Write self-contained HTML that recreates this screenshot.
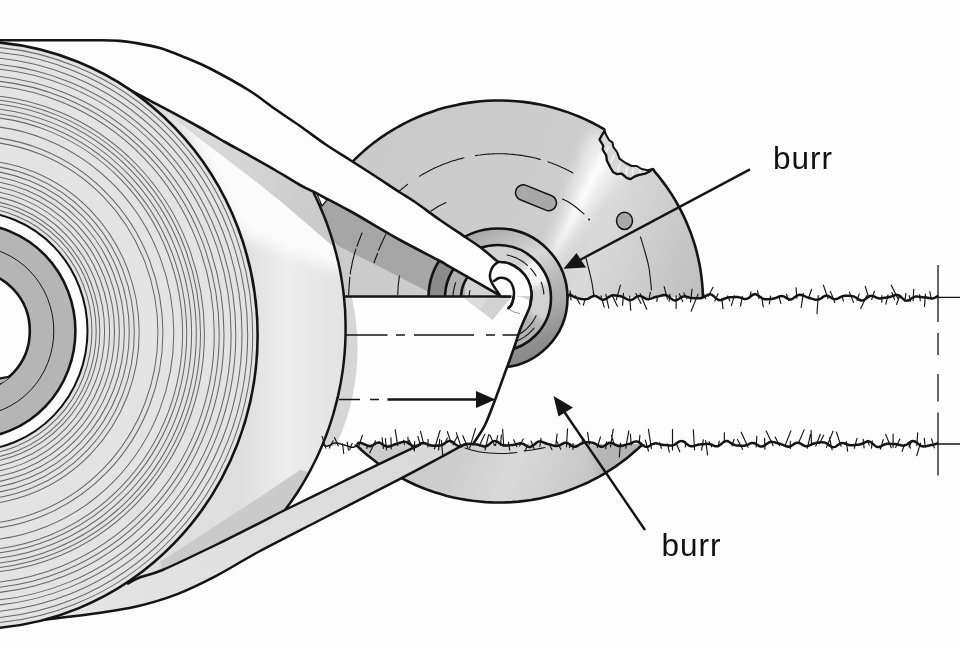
<!DOCTYPE html>
<html lang="en"><head><meta charset="utf-8"><title>burr</title>
<style>html,body{margin:0;padding:0;background:#fdfdfd;}body{width:960px;height:650px;overflow:hidden;font-family:"Liberation Sans",Arial,sans-serif;}svg{display:block;filter:blur(.45px)}</style>
</head><body>
<svg width="960" height="650" viewBox="0 0 960 650">
<defs>
<linearGradient id="gside" gradientUnits="userSpaceOnUse" x1="240" y1="330" x2="345" y2="330">
<stop offset="0" stop-color="#dedede"/><stop offset=".45" stop-color="#ededed"/><stop offset="1" stop-color="#e2e2e2"/></linearGradient>
<linearGradient id="gblade" gradientUnits="userSpaceOnUse" x1="330" y1="150" x2="720" y2="300">
<stop offset="0" stop-color="#cacaca"/><stop offset=".55" stop-color="#cdcdcd"/><stop offset=".68" stop-color="#d9d9d9"/><stop offset="1" stop-color="#bababa"/></linearGradient>
<linearGradient id="gring" gradientUnits="userSpaceOnUse" x1="480" y1="235" x2="530" y2="365">
<stop offset="0" stop-color="#acacac"/><stop offset=".27" stop-color="#d8d8d8"/><stop offset=".45" stop-color="#bcbcbc"/><stop offset=".66" stop-color="#a8a8a8"/><stop offset=".9" stop-color="#8c8c8c"/><stop offset="1" stop-color="#888888"/></linearGradient>
<linearGradient id="gbstrip" gradientUnits="userSpaceOnUse" x1="30" y1="620" x2="460" y2="450">
<stop offset="0" stop-color="#e6e6e6"/><stop offset="1" stop-color="#d8d8d8"/></linearGradient>
<linearGradient id="gshadow" gradientUnits="userSpaceOnUse" x1="165" y1="110" x2="335" y2="230"><stop offset="0" stop-color="#dedede"/><stop offset=".5" stop-color="#d4d4d4"/><stop offset="1" stop-color="#c8c8c8"/></linearGradient>
<filter id="blur6" x="-30%" y="-30%" width="160%" height="160%"><feGaussianBlur stdDeviation="7"/></filter>
<filter id="blur3" x="-30%" y="-30%" width="160%" height="160%"><feGaussianBlur stdDeviation="3"/></filter>

<clipPath id="cblade"><path d="M295.0,301.5 L295.1,294.4 L295.5,287.4 L296.1,280.3 L297.0,273.3 L298.2,266.3 L299.5,259.3 L301.2,252.4 L303.0,245.6 L305.2,238.8 L307.5,232.1 L310.1,225.5 L313.0,219.0 L316.0,212.6 L319.3,206.3 L322.8,200.2 L326.6,194.1 L330.5,188.2 L334.7,182.4 L339.0,176.8 L343.6,171.3 L348.3,166.0 L353.3,160.9 L358.4,155.9 L363.7,151.1 L369.1,146.5 L374.7,142.1 L380.5,137.9 L386.4,133.9 L392.5,130.1 L398.7,126.5 L405.0,123.1 L411.5,119.9 L418.0,117.0 L424.6,114.3 L431.4,111.9 L438.2,109.6 L445.1,107.6 L452.1,105.9 L459.1,104.4 L466.1,103.1 L473.3,102.1 L480.4,101.3 L487.6,100.8 L494.8,100.5 L501.9,100.5 L509.1,100.7 L516.3,101.2 L523.4,101.9 L530.6,102.9 L537.6,104.1 L544.7,105.6 L551.6,107.3 L558.5,109.3 L565.4,111.4 L572.1,113.9 L578.8,116.5 L585.4,119.4 L591.8,122.5 L598.2,125.8 L604.4,129.4 L604.5,132.3 L603.4,132.8 L599.7,139.6 L603.4,145.7 L602.8,149.4 L606.5,155.6 L607.0,160.5 L610.8,167.9 L613.3,172.2 L617.0,174.0 L621.9,173.4 L626.8,177.7 L630.5,179.0 L634.2,176.5 L639.0,174.7 L645.3,173.4 L649.0,171.6 L652.7,169.0 L654.0,170.3 L654.8,171.8 L659.0,176.7 L662.9,181.9 L666.7,187.1 L670.4,192.4 L673.8,197.9 L677.1,203.5 L680.2,209.1 L683.1,214.9 L685.8,220.8 L688.3,226.7 L690.7,232.7 L692.8,238.8 L694.8,244.9 L696.5,251.1 L698.0,257.4 L699.4,263.7 L700.5,270.0 L701.4,276.4 L702.1,282.8 L702.6,289.2 L702.9,295.7 L703.0,302.1 L702.9,308.5 L702.5,315.0 L702.0,321.4 L701.3,327.8 L700.3,334.1 L699.1,340.5 L697.8,346.8 L696.2,353.0 L694.4,359.2 L692.4,365.3 L690.3,371.4 L687.9,377.4 L685.3,383.3 L682.6,389.2 L679.6,394.9 L676.5,400.6 L673.2,406.1 L669.7,411.6 L666.0,416.9 L662.2,422.1 L658.2,427.2 L654.0,432.1 L649.7,437.0 L645.2,441.7 L640.6,446.2 L635.8,450.6 L630.9,454.8 L625.9,458.9 L620.7,462.8 L615.4,466.6 L609.9,470.2 L604.4,473.6 L598.8,476.8 L593.0,479.9 L587.2,482.8 L581.2,485.4 L575.2,487.9 L569.1,490.3 L562.9,492.4 L556.7,494.3 L550.4,496.0 L544.1,497.5 L537.7,498.9 L531.2,500.0 L524.8,500.9 L518.3,501.6 L511.8,502.1 L505.2,502.4 L498.7,502.5 L492.2,502.4 L485.6,502.1 L479.1,501.5 L472.6,500.8 L466.2,499.9 L459.7,498.7 L453.4,497.4 L447.0,495.9 L440.7,494.1 L434.5,492.2 L428.3,490.1 L422.2,487.7 L416.2,485.2 L410.3,482.5 L404.5,479.6 L398.7,476.5 L393.1,473.3 L387.6,469.9 L382.1,466.3 L376.8,462.5 L371.7,458.5 L366.6,454.4 L361.7,450.2 L357.0,445.8 L352.4,441.2 L347.9,436.5 L343.6,431.7 L339.4,426.7 L335.4,421.6 L331.6,416.4 L328.0,411.1 L324.5,405.6 L321.2,400.0 L318.1,394.4 L315.2,388.6 L312.4,382.8 L309.9,376.9 L307.5,370.9 L305.4,364.8 L303.4,358.6 L301.7,352.4 L300.1,346.2 L298.8,339.9 L297.6,333.5 L296.7,327.2 L295.9,320.8 L295.4,314.4 L295.1,307.9 L295.0,301.5Z"/></clipPath>
<clipPath id="cfront"><ellipse cx="-26.1" cy="335.2" rx="283.7" ry="293.8"/></clipPath>
</defs>
<rect width="960" height="650" fill="#fdfdfd"/>
<path d="M295.0,301.5 L295.1,294.4 L295.5,287.4 L296.1,280.3 L297.0,273.3 L298.2,266.3 L299.5,259.3 L301.2,252.4 L303.0,245.6 L305.2,238.8 L307.5,232.1 L310.1,225.5 L313.0,219.0 L316.0,212.6 L319.3,206.3 L322.8,200.2 L326.6,194.1 L330.5,188.2 L334.7,182.4 L339.0,176.8 L343.6,171.3 L348.3,166.0 L353.3,160.9 L358.4,155.9 L363.7,151.1 L369.1,146.5 L374.7,142.1 L380.5,137.9 L386.4,133.9 L392.5,130.1 L398.7,126.5 L405.0,123.1 L411.5,119.9 L418.0,117.0 L424.6,114.3 L431.4,111.9 L438.2,109.6 L445.1,107.6 L452.1,105.9 L459.1,104.4 L466.1,103.1 L473.3,102.1 L480.4,101.3 L487.6,100.8 L494.8,100.5 L501.9,100.5 L509.1,100.7 L516.3,101.2 L523.4,101.9 L530.6,102.9 L537.6,104.1 L544.7,105.6 L551.6,107.3 L558.5,109.3 L565.4,111.4 L572.1,113.9 L578.8,116.5 L585.4,119.4 L591.8,122.5 L598.2,125.8 L604.4,129.4 L604.5,132.3 L603.4,132.8 L599.7,139.6 L603.4,145.7 L602.8,149.4 L606.5,155.6 L607.0,160.5 L610.8,167.9 L613.3,172.2 L617.0,174.0 L621.9,173.4 L626.8,177.7 L630.5,179.0 L634.2,176.5 L639.0,174.7 L645.3,173.4 L649.0,171.6 L652.7,169.0 L654.0,170.3 L654.8,171.8 L659.0,176.7 L662.9,181.9 L666.7,187.1 L670.4,192.4 L673.8,197.9 L677.1,203.5 L680.2,209.1 L683.1,214.9 L685.8,220.8 L688.3,226.7 L690.7,232.7 L692.8,238.8 L694.8,244.9 L696.5,251.1 L698.0,257.4 L699.4,263.7 L700.5,270.0 L701.4,276.4 L702.1,282.8 L702.6,289.2 L702.9,295.7 L703.0,302.1 L702.9,308.5 L702.5,315.0 L702.0,321.4 L701.3,327.8 L700.3,334.1 L699.1,340.5 L697.8,346.8 L696.2,353.0 L694.4,359.2 L692.4,365.3 L690.3,371.4 L687.9,377.4 L685.3,383.3 L682.6,389.2 L679.6,394.9 L676.5,400.6 L673.2,406.1 L669.7,411.6 L666.0,416.9 L662.2,422.1 L658.2,427.2 L654.0,432.1 L649.7,437.0 L645.2,441.7 L640.6,446.2 L635.8,450.6 L630.9,454.8 L625.9,458.9 L620.7,462.8 L615.4,466.6 L609.9,470.2 L604.4,473.6 L598.8,476.8 L593.0,479.9 L587.2,482.8 L581.2,485.4 L575.2,487.9 L569.1,490.3 L562.9,492.4 L556.7,494.3 L550.4,496.0 L544.1,497.5 L537.7,498.9 L531.2,500.0 L524.8,500.9 L518.3,501.6 L511.8,502.1 L505.2,502.4 L498.7,502.5 L492.2,502.4 L485.6,502.1 L479.1,501.5 L472.6,500.8 L466.2,499.9 L459.7,498.7 L453.4,497.4 L447.0,495.9 L440.7,494.1 L434.5,492.2 L428.3,490.1 L422.2,487.7 L416.2,485.2 L410.3,482.5 L404.5,479.6 L398.7,476.5 L393.1,473.3 L387.6,469.9 L382.1,466.3 L376.8,462.5 L371.7,458.5 L366.6,454.4 L361.7,450.2 L357.0,445.8 L352.4,441.2 L347.9,436.5 L343.6,431.7 L339.4,426.7 L335.4,421.6 L331.6,416.4 L328.0,411.1 L324.5,405.6 L321.2,400.0 L318.1,394.4 L315.2,388.6 L312.4,382.8 L309.9,376.9 L307.5,370.9 L305.4,364.8 L303.4,358.6 L301.7,352.4 L300.1,346.2 L298.8,339.9 L297.6,333.5 L296.7,327.2 L295.9,320.8 L295.4,314.4 L295.1,307.9 L295.0,301.5Z" fill="url(#gblade)"/>
<g clip-path="url(#cblade)">
<polygon points="538,285 590,132 638,152" fill="#ffffff" opacity=".6" filter="url(#blur6)"/>
<polygon points="547,266 601,150 612,155" fill="#ffffff" opacity=".9" filter="url(#blur3)"/>
<polygon points="300,180 520,300 520,330 300,215" fill="#9e9e9e" opacity=".0"/>
<polygon points="590,444 650,444 640,470 600,480" fill="#a8a8a8" opacity=".55" filter="url(#blur3)"/>
</g>
<path d="M295.0,301.5 L295.1,294.4 L295.5,287.4 L296.1,280.3 L297.0,273.3 L298.2,266.3 L299.5,259.3 L301.2,252.4 L303.0,245.6 L305.2,238.8 L307.5,232.1 L310.1,225.5 L313.0,219.0 L316.0,212.6 L319.3,206.3 L322.8,200.2 L326.6,194.1 L330.5,188.2 L334.7,182.4 L339.0,176.8 L343.6,171.3 L348.3,166.0 L353.3,160.9 L358.4,155.9 L363.7,151.1 L369.1,146.5 L374.7,142.1 L380.5,137.9 L386.4,133.9 L392.5,130.1 L398.7,126.5 L405.0,123.1 L411.5,119.9 L418.0,117.0 L424.6,114.3 L431.4,111.9 L438.2,109.6 L445.1,107.6 L452.1,105.9 L459.1,104.4 L466.1,103.1 L473.3,102.1 L480.4,101.3 L487.6,100.8 L494.8,100.5 L501.9,100.5 L509.1,100.7 L516.3,101.2 L523.4,101.9 L530.6,102.9 L537.6,104.1 L544.7,105.6 L551.6,107.3 L558.5,109.3 L565.4,111.4 L572.1,113.9 L578.8,116.5 L585.4,119.4 L591.8,122.5 L598.2,125.8 L604.4,129.4 L604.5,132.3 L603.4,132.8 L599.7,139.6 L603.4,145.7 L602.8,149.4 L606.5,155.6 L607.0,160.5 L610.8,167.9 L613.3,172.2 L617.0,174.0 L621.9,173.4 L626.8,177.7 L630.5,179.0 L634.2,176.5 L639.0,174.7 L645.3,173.4 L649.0,171.6 L652.7,169.0 L654.0,170.3 L654.8,171.8 L659.0,176.7 L662.9,181.9 L666.7,187.1 L670.4,192.4 L673.8,197.9 L677.1,203.5 L680.2,209.1 L683.1,214.9 L685.8,220.8 L688.3,226.7 L690.7,232.7 L692.8,238.8 L694.8,244.9 L696.5,251.1 L698.0,257.4 L699.4,263.7 L700.5,270.0 L701.4,276.4 L702.1,282.8 L702.6,289.2 L702.9,295.7 L703.0,302.1 L702.9,308.5 L702.5,315.0 L702.0,321.4 L701.3,327.8 L700.3,334.1 L699.1,340.5 L697.8,346.8 L696.2,353.0 L694.4,359.2 L692.4,365.3 L690.3,371.4 L687.9,377.4 L685.3,383.3 L682.6,389.2 L679.6,394.9 L676.5,400.6 L673.2,406.1 L669.7,411.6 L666.0,416.9 L662.2,422.1 L658.2,427.2 L654.0,432.1 L649.7,437.0 L645.2,441.7 L640.6,446.2 L635.8,450.6 L630.9,454.8 L625.9,458.9 L620.7,462.8 L615.4,466.6 L609.9,470.2 L604.4,473.6 L598.8,476.8 L593.0,479.9 L587.2,482.8 L581.2,485.4 L575.2,487.9 L569.1,490.3 L562.9,492.4 L556.7,494.3 L550.4,496.0 L544.1,497.5 L537.7,498.9 L531.2,500.0 L524.8,500.9 L518.3,501.6 L511.8,502.1 L505.2,502.4 L498.7,502.5 L492.2,502.4 L485.6,502.1 L479.1,501.5 L472.6,500.8 L466.2,499.9 L459.7,498.7 L453.4,497.4 L447.0,495.9 L440.7,494.1 L434.5,492.2 L428.3,490.1 L422.2,487.7 L416.2,485.2 L410.3,482.5 L404.5,479.6 L398.7,476.5 L393.1,473.3 L387.6,469.9 L382.1,466.3 L376.8,462.5 L371.7,458.5 L366.6,454.4 L361.7,450.2 L357.0,445.8 L352.4,441.2 L347.9,436.5 L343.6,431.7 L339.4,426.7 L335.4,421.6 L331.6,416.4 L328.0,411.1 L324.5,405.6 L321.2,400.0 L318.1,394.4 L315.2,388.6 L312.4,382.8 L309.9,376.9 L307.5,370.9 L305.4,364.8 L303.4,358.6 L301.7,352.4 L300.1,346.2 L298.8,339.9 L297.6,333.5 L296.7,327.2 L295.9,320.8 L295.4,314.4 L295.1,307.9 L295.0,301.5Z" fill="none" stroke="#141414" stroke-width="2.6" stroke-linejoin="round"/>
<path d="M605.2,132.2 L605.9,134.6 L609.0,140.0 L612.6,142.6 L613.3,147.0 L617.0,151.9 L619.4,158.6 L625.6,163.0 L631.7,166.0 L636.7,166.0 L641.6,169.0 L647.7,170.3 L652.7,169.0 L652.7,169.0 L649.0,171.6 L645.3,173.4 L639.0,174.7 L634.2,176.5 L630.5,179.0 L626.8,177.7 L621.9,173.4 L617.0,174.0 L613.3,172.2 L610.8,167.9 L607.0,160.5 L606.5,155.6 L602.8,149.4 L603.4,145.7 L599.7,139.6 L603.4,132.8Z" fill="#d8d8d8" stroke="#141414" stroke-width="2" stroke-linejoin="round"/>
<line x1="609" y1="146" x2="606" y2="152" stroke="#f4f4f4" stroke-width="1.6"/>
<line x1="614" y1="155" x2="611" y2="163" stroke="#f4f4f4" stroke-width="1.6"/>
<line x1="620" y1="163" x2="618" y2="171" stroke="#f4f4f4" stroke-width="1.6"/>
<line x1="627" y1="167" x2="626" y2="174" stroke="#f4f4f4" stroke-width="1.6"/>
<line x1="633" y1="168.5" x2="632.5" y2="175" stroke="#f4f4f4" stroke-width="1.6"/>
<line x1="640" y1="170" x2="640" y2="173" stroke="#f4f4f4" stroke-width="1.6"/>
<g clip-path="url(#cblade)">
<path d="M315.0,192.5 L350.0,211.0 L400.0,240.0 L440.0,261.0 L450.0,266.8 L500.0,295.5 L500.0,296.0 L436.0,296.0 L424.8,290.0 L380.0,267.0 L338.5,246.0 L330.0,237.0Z" fill="#a6a6a6"/>
</g>
<path d="M399.4,191.0 L399.7,190.8 L399.9,190.5 L400.2,190.3 L400.5,190.1 L400.8,189.9 L401.0,189.6 L401.3,189.4 L401.6,189.2 L401.8,188.9 L402.1,188.7 L402.4,188.5 L402.7,188.3 L402.9,188.0 L403.2,187.8 L403.5,187.6 L403.8,187.4 L404.0,187.1 L404.3,186.9 L404.6,186.7 L404.9,186.5 L405.2,186.2 L405.4,186.0 L405.7,185.8 L406.0,185.6 L406.3,185.4 L406.6,185.1 L406.8,184.9 L407.1,184.7 L407.4,184.5 L407.7,184.3" fill="none" stroke="#141414" stroke-width="1.1" stroke-linecap="round"/>
<path d="M419.5,176.2 L420.9,175.4 L422.3,174.5 L423.7,173.7 L425.1,172.9 L426.5,172.2 L427.9,171.4 L429.3,170.7 L430.7,169.9 L432.2,169.2 L433.6,168.5 L435.1,167.8 L436.6,167.2 L438.0,166.5 L439.5,165.9 L441.0,165.2 L442.5,164.6 L444.0,164.0 L445.5,163.5 L447.0,162.9 L448.5,162.4 L450.0,161.8 L451.6,161.3 L453.1,160.8 L454.6,160.4 L456.2,159.9 L457.7,159.4 L459.3,159.0 L460.9,158.6 L462.4,158.2 L464.0,157.8" fill="none" stroke="#141414" stroke-width="1.1" stroke-linecap="round"/>
<path d="M475.5,155.6 L477.7,155.2 L479.9,155.0 L482.0,154.7 L484.2,154.5 L486.4,154.3 L488.5,154.1 L490.7,154.0 L492.9,153.9 L495.1,153.8 L497.3,153.8 L499.4,153.8 L501.6,153.8 L503.8,153.8 L506.0,153.9 L508.2,154.0 L510.3,154.2 L512.5,154.4 L514.7,154.6 L516.8,154.8 L519.0,155.1 L521.2,155.4 L523.3,155.7 L525.5,156.1 L527.6,156.5 L529.8,156.9 L531.9,157.3 L534.0,157.8 L536.1,158.3 L538.2,158.9 L540.3,159.5" fill="none" stroke="#141414" stroke-width="1.1" stroke-linecap="round"/>
<path d="M547.8,161.8 L548.7,162.1 L549.6,162.4 L550.4,162.7 L551.3,163.0 L552.1,163.3 L553.0,163.7 L553.9,164.0 L554.7,164.3 L555.6,164.7 L556.4,165.0 L557.2,165.3 L558.1,165.7 L558.9,166.1 L559.8,166.4 L560.6,166.8 L561.4,167.2 L562.3,167.5 L563.1,167.9 L563.9,168.3 L564.8,168.7 L565.6,169.1 L566.4,169.5 L567.2,169.9 L568.0,170.3 L568.8,170.7 L569.7,171.2 L570.5,171.6 L571.3,172.0 L572.1,172.5 L572.9,172.9" fill="none" stroke="#141414" stroke-width="1.1" stroke-linecap="round"/>
<path d="M431.0,211.0 L438.0,206.5 L446.0,202.5" fill="none" stroke="#141414" stroke-width="1.1" stroke-linecap="round"/>
<path d="M562.5,199.0 C563.8,199.7 567.6,201.5 570.0,203.0 C572.4,204.5 574.7,206.2 577.0,208.0 C579.3,209.8 582.8,213.0 584.0,214.0" fill="none" stroke="#141414" stroke-width="1.1" stroke-linecap="round"/>
<circle cx="589" cy="219.5" r="1" fill="#141414"/>
<rect x="514.5" y="190" width="43" height="15.5" rx="7.7" transform="rotate(22 536 197.7)" fill="#a8a8a8" stroke="#141414" stroke-width="1.5"/>
<ellipse cx="624.5" cy="220.8" rx="8" ry="8.6" fill="#a8a8a8" stroke="#141414" stroke-width="1.5"/>
<path d="M586.0,258.0 C586.5,260.0 588.0,265.8 589.0,270.0 C590.0,274.2 591.2,278.5 592.0,283.0 C592.8,287.5 593.7,294.7 594.0,297.0" fill="none" stroke="#141414" stroke-width="1.1" stroke-linecap="round"/>
<path d="M640.5,237.0 C641.2,239.5 643.6,246.8 645.0,252.0 C646.4,257.2 647.9,261.7 649.0,268.0 C650.1,274.3 651.1,286.3 651.5,290.0" fill="none" stroke="#141414" stroke-width="1.1" stroke-linecap="round"/>
<path d="M362.0,233.0 C360.8,236.2 356.9,245.5 355.0,252.0 C353.1,258.5 351.6,264.8 350.5,272.0 C349.4,279.2 348.9,291.2 348.6,295.0" fill="none" stroke="#141414" stroke-width="1.1" stroke-linecap="round" stroke-dasharray="14 3 26 3 60"/>
<path d="M386.0,234.0 C385.0,236.2 382.0,242.2 380.0,247.0 C378.0,251.8 375.0,260.2 374.0,262.8" fill="none" stroke="#141414" stroke-width="1.1" stroke-linecap="round" stroke-dasharray="18 3 20"/>
<path d="M399.4,276.0 C399.2,277.5 398.6,281.8 398.3,285.0 C398.0,288.2 397.8,293.3 397.7,295.0" fill="none" stroke="#141414" stroke-width="1.1" stroke-linecap="round"/>
<path d="M465.0,448.0 C467.5,448.7 474.2,451.1 480.0,452.0 C485.8,452.9 493.8,453.4 500.0,453.5 C506.2,453.6 514.2,452.7 517.0,452.5" fill="none" stroke="#141414" stroke-width="1.1" stroke-linecap="round"/>
<path d="M524.0,451.0 C525.8,450.8 531.5,450.1 535.0,449.5 C538.5,448.9 543.3,447.8 545.0,447.5" fill="none" stroke="#141414" stroke-width="1.1" stroke-linecap="round"/>
<rect x="345" y="297" width="593" height="147" fill="#fdfdfd"/>
<circle cx="498" cy="298" r="69.5" fill="url(#gring)"/>
<circle cx="498" cy="298" r="53" fill="#d2d2d2"/>
<g><clipPath id="chub"><circle cx="498" cy="298" r="53"/></clipPath><g clip-path="url(#chub)"><polygon points="498,298 540,250 556,280" fill="#fff" opacity=".8" filter="url(#blur3)"/><polygon points="498,298 520,360 560,330" fill="#9a9a9a" opacity=".55" filter="url(#blur3)"/><rect x="420" y="225" width="45" height="75" fill="#b0b0b0"/></g></g>
<path d="M437.8,332.8 L435.7,328.8 L433.8,324.7 L432.2,320.5 L430.9,316.2 L429.9,311.9 L429.1,307.4 L428.7,303.0 L428.5,298.5 L428.6,294.0 L429.0,289.5 L429.7,285.1 L430.7,280.7 L431.9,276.4 L433.5,272.2 L435.3,268.1 L437.3,264.1 L439.6,260.2 L442.2,256.6 L445.0,253.0 L448.0,249.7 L459.9,261.2 L457.6,263.7 L455.5,266.4 L453.5,269.2 L451.7,272.1 L450.2,275.2 L448.8,278.3 L447.6,281.5 L446.7,284.8 L445.9,288.2 L445.4,291.5 L445.1,294.9 L445.0,298.4 L445.1,301.8 L445.5,305.2 L446.1,308.6 L446.9,311.9 L447.9,315.2 L449.1,318.4 L450.5,321.5 L452.1,324.5Z" fill="#8b8b8b"/>
<circle cx="498" cy="298" r="69.5" fill="none" stroke="#141414" stroke-width="2.6"/>
<circle cx="498" cy="298" r="53" fill="none" stroke="#141414" stroke-width="2.6"/>
<path d="M466.0,316.5 L465.3,315.3 L464.7,314.0 L464.1,312.8 L463.5,311.5 L463.1,310.1 L462.6,308.8 L462.2,307.5 L461.9,306.1 L461.6,304.7 L461.4,303.4 L461.2,302.0 L461.1,300.6 L461.0,299.2 L461.0,297.8 L461.0,296.4 L461.1,295.0 L461.3,293.6 L461.5,292.2 L461.7,290.8 L462.0,289.5 L462.3,288.1 L462.7,286.8 L463.2,285.4 L463.7,284.1 L464.2,282.9 L464.8,281.6 L465.5,280.3 L466.2,279.1 L466.9,277.9 L467.7,276.8" fill="none" stroke="#141414" stroke-width="2.6"/>
<path d="M507.1,255.0 L507.9,255.1 L508.6,255.3 L509.4,255.5 L510.1,255.7 L510.9,255.9 L511.6,256.2 L512.3,256.4 L513.0,256.7 L513.8,256.9 L514.5,257.2 L515.2,257.5 L515.9,257.8 L516.6,258.1 L517.3,258.5 L518.0,258.8 L518.7,259.2 L519.3,259.5 L520.0,259.9 L520.7,260.3 L521.3,260.7 L522.0,261.1 L522.6,261.5 L523.2,262.0 L523.9,262.4 L524.5,262.9 L525.1,263.3 L525.7,263.8 L526.3,264.3 L526.9,264.8 L527.4,265.3" fill="none" stroke="#141414" stroke-width="1.1" stroke-linecap="round"/>
<path d="M530.7,268.6 L530.9,268.8 L531.1,269.0 L531.3,269.2 L531.5,269.5 L531.7,269.7 L531.9,270.0 L532.1,270.2 L532.3,270.4 L532.5,270.7 L532.7,270.9 L532.9,271.2 L533.0,271.4 L533.2,271.6 L533.4,271.9 L533.6,272.1 L533.8,272.4 L534.0,272.6 L534.1,272.9 L534.3,273.1 L534.5,273.4 L534.6,273.7 L534.8,273.9 L535.0,274.2 L535.2,274.4 L535.3,274.7 L535.5,274.9 L535.6,275.2 L535.8,275.5 L536.0,275.7 L536.1,276.0" fill="none" stroke="#141414" stroke-width="1.1" stroke-linecap="round"/>
<path d="M541.2,282.3 L541.4,282.6 L541.5,283.0 L541.6,283.4 L541.7,283.8 L541.9,284.2 L542.0,284.6 L542.1,284.9 L542.2,285.3 L542.3,285.7 L542.4,286.1 L542.5,286.5 L542.6,286.9 L542.7,287.3 L542.8,287.7 L542.9,288.0 L543.0,288.4 L543.1,288.8 L543.2,289.2 L543.2,289.6 L543.3,290.0 L543.4,290.4 L543.4,290.8 L543.5,291.2 L543.6,291.6 L543.6,292.0 L543.7,292.4 L543.7,292.8 L543.7,293.2 L543.8,293.6 L543.8,294.0" fill="none" stroke="#141414" stroke-width="1.1" stroke-linecap="round"/>
<path d="M536.1,315.7 L535.7,316.5 L535.3,317.3 L534.9,318.0 L534.5,318.8 L534.1,319.5 L533.6,320.3 L533.2,321.0 L532.7,321.7 L532.2,322.4 L531.7,323.1 L531.2,323.8 L530.6,324.4 L530.1,325.1 L529.5,325.7 L529.0,326.4 L528.4,327.0 L527.8,327.6 L527.2,328.2 L526.6,328.8 L525.9,329.4 L525.3,329.9 L524.6,330.5 L524.0,331.0 L523.3,331.5 L522.6,332.1 L521.9,332.5 L521.2,333.0 L520.5,333.5 L519.7,333.9 L519.0,334.4" fill="none" stroke="#141414" stroke-width="1.1" stroke-linecap="round"/>
<path d="M534.0,328.2 L533.4,328.9 L532.7,329.7 L532.1,330.4 L531.4,331.0 L530.7,331.7 L530.1,332.4 L529.3,333.0 L528.6,333.7 L527.9,334.3 L527.2,334.9 L526.4,335.5 L525.6,336.0 L524.8,336.6 L524.1,337.1 L523.3,337.6 L522.4,338.1 L521.6,338.6 L520.8,339.1 L519.9,339.6 L519.1,340.0 L518.2,340.4 L517.4,340.8 L516.5,341.2 L515.6,341.6 L514.7,341.9 L513.8,342.3 L512.9,342.6 L512.0,342.9 L511.1,343.1 L510.2,343.4" fill="none" stroke="#141414" stroke-width="1.1" stroke-linecap="round"/>
<path d="M455.7,313.4 L455.4,312.4 L455.0,311.4 L454.7,310.4 L454.5,309.4 L454.2,308.4 L454.0,307.4 L453.8,306.3 L453.6,305.3 L453.4,304.3 L453.3,303.2 L453.2,302.2 L453.1,301.1 L453.0,300.1 L453.0,299.0 L453.0,298.0 L453.0,297.0 L453.0,295.9 L453.1,294.9 L453.2,293.8 L453.3,292.8 L453.4,291.7 L453.6,290.7 L453.8,289.7 L454.0,288.6 L454.2,287.6 L454.5,286.6 L454.7,285.6 L455.0,284.6 L455.4,283.6 L455.7,282.6" fill="none" stroke="#141414" stroke-width="1.1" stroke-linecap="round"/>
<path d="M470.7,307.9 L470.6,307.4 L470.4,306.8 L470.2,306.2 L470.0,305.7 L469.9,305.1 L469.7,304.5 L469.6,303.9 L469.5,303.4 L469.4,302.8 L469.3,302.2 L469.2,301.6 L469.2,301.0 L469.1,300.4 L469.1,299.9 L469.0,299.3 L469.0,298.7 L469.0,298.1 L469.0,297.5 L469.0,296.9 L469.0,296.3 L469.1,295.7 L469.1,295.1 L469.2,294.5 L469.3,294.0 L469.4,293.4 L469.5,292.8 L469.6,292.2 L469.7,291.6 L469.8,291.1 L470.0,290.5" fill="none" stroke="#141414" stroke-width="1.1" stroke-linecap="round"/>
<path d="M498.0,262.0 C497.0,263.0 493.4,265.7 492.0,268.0 C490.6,270.3 489.5,273.3 489.5,276.0 C489.5,278.7 490.9,281.7 492.0,284.0 C493.1,286.3 494.7,288.1 496.0,290.0 C497.3,291.9 499.3,294.6 500.0,295.5 L510,296 L531,296  C530.9,290.8 529.9,283.8 528.0,280.0 C526.1,276.2 523.2,272.8 520.0,270.0 C516.8,267.2 512.7,264.8 509.0,263.5 C505.3,262.2 499.8,262.2 498.0,262.0Z" fill="#fdfdfd"/>
<path d="M344.0,296.0 L512.0,296.0  C531.2,297.7 531.1,302.3 530.0,306.0 C528.9,309.7 526.7,314.0 525.0,318.0 C523.3,322.0 521.7,325.5 520.0,330.0 C518.3,334.5 516.8,339.7 515.0,345.0 C513.2,350.3 510.5,357.8 509.0,362.0 C507.5,366.2 508.3,363.7 506.0,370.0 C503.7,376.3 498.5,390.8 495.0,400.0 C491.5,409.2 488.5,417.8 485.0,425.0 C481.5,432.2 475.6,440.0 473.8,443.0 L322,445 L322.1,445.7 L324.9,438.6 L327.6,431.4 L330.1,424.2 L332.5,416.8 L334.6,409.5 L336.6,402.1 L338.3,394.6 L339.9,387.1 L341.3,379.5 L342.5,371.9 L343.5,364.3 L344.3,356.7 L344.9,349.0 L345.3,341.3 L345.6,333.6 L345.6,325.9 L345.4,318.2 L345.1,310.6 L344.5,302.9 L343.8,295.2Z" fill="#fdfdfd"/>
<g><clipPath id="csheet"><rect x="320" y="297" width="215" height="149"/></clipPath><g clip-path="url(#csheet)">
<ellipse cx="73.9" cy="348.5" rx="283.7" ry="253.8" fill="#d6d6d6"/>
</g></g>
<polygon points="464,298 510.5,298 492.5,320" fill="#d2d2d2"/>
<polygon points="464,298 488,298 480,309" fill="#e2e2e2" opacity=".6"/>
<path d="M344,296.5 L511,296.5" stroke="#141414" stroke-width="2.4" fill="none"/>
<path d="M498.0,262.0 C499.8,262.2 505.3,262.2 509.0,263.5 C512.7,264.8 516.8,267.2 520.0,270.0 C523.2,272.8 526.1,276.2 528.0,280.0 C529.9,283.8 531.2,288.7 531.5,293.0 C531.8,297.3 531.1,301.8 530.0,306.0 C528.9,310.2 526.7,314.0 525.0,318.0 C523.3,322.0 521.7,325.5 520.0,330.0 C518.3,334.5 516.8,339.7 515.0,345.0 C513.2,350.3 510.5,357.8 509.0,362.0 C507.5,366.2 508.3,363.7 506.0,370.0 C503.7,376.3 498.5,390.8 495.0,400.0 C491.5,409.2 488.5,417.8 485.0,425.0 C481.5,432.2 475.6,440.0 473.8,443.0" fill="none" stroke="#141414" stroke-width="2.6" stroke-linecap="round"/>
<path d="M494.0,280.0 C494.8,279.6 497.1,277.8 499.0,277.5 C500.9,277.2 503.6,277.8 505.5,278.5 C507.4,279.2 509.2,280.6 510.5,282.0 C511.8,283.4 512.4,285.2 513.0,287.0 C513.6,288.8 513.9,290.8 514.0,292.5 C514.1,294.2 513.8,295.9 513.5,297.5 C513.2,299.1 513.0,300.6 512.5,302.0 C512.0,303.4 511.3,305.0 510.6,306.0 C509.9,307.0 508.9,307.7 508.5,308.0" fill="none" stroke="#141414" stroke-width="2.4" stroke-linecap="round"/>
<path d="M509.0,309.0 C509.8,309.5 512.2,311.2 514.0,312.0 C515.8,312.8 519.0,313.2 520.0,313.5" fill="none" stroke="#888" stroke-width="1"/>
<path d="M345,335 L387.5,335 M396,335 L405,335 M414,335 L474,335 M486,335 L495,335 M502.5,335 L518,335" stroke="#141414" stroke-width="1.5" fill="none"/>
<path d="M339,399.5 L360,399.5 M370,399.5 L379,399.5" stroke="#141414" stroke-width="1.5" fill="none"/>
<path d="M387.5,399.5 L478,399.5" stroke="#141414" stroke-width="2.4" fill="none"/>
<polygon points="495.5,399.5 476,391 476,408" fill="#141414"/>
<path d="M570.1,290.9 L571.0,300.0 M575.4,295.7 L579.8,304.0 M585.3,298.2 L583.4,305.1 M594.2,296.7 L593.4,292.1 M601.0,295.9 L604.2,307.2 M605.8,294.3 L608.8,308.2 M611.7,294.5 L617.4,306.2 M616.3,299.9 L620.4,285.1 M623.5,293.3 L622.6,305.1 M629.6,296.0 L630.7,310.1 M635.9,293.5 L641.0,303.5 M640.2,293.7 L646.7,309.2 M648.8,299.8 L650.4,292.2 M657.6,295.8 L656.8,301.5 M667.5,299.2 L664.1,286.7 M669.9,294.4 L669.1,301.2 M676.1,295.8 L676.1,308.3 M682.8,301.4 L679.3,293.8 M686.6,298.2 L683.9,292.9 M690.5,301.9 L692.1,289.0 M698.1,294.1 L691.1,311.2 M705.7,298.7 L702.3,291.2 M708.3,296.3 L713.0,287.3 M714.8,300.9 L718.1,293.7 M721.8,298.2 L723.0,308.7 M727.5,296.1 L729.9,301.0 M734.4,295.9 L731.3,305.6 M742.4,296.3 L740.5,306.1 M749.8,298.2 L751.0,291.9 M758.9,298.7 L757.5,290.7 M761.6,296.8 L763.3,307.0 M770.6,296.0 L769.3,303.9 M778.8,296.1 L780.9,303.4 M788.9,300.7 L786.5,294.3 M796.9,298.1 L796.0,287.9 M803.3,293.4 L801.2,307.4 M808.5,298.2 L811.6,289.3 M818.2,295.5 L817.0,313.7 M828.0,298.6 L823.4,285.3 M834.8,302.5 L830.4,291.4 M841.8,295.8 L843.5,301.2 M849.4,292.1 L853.6,302.4 M857.1,300.4 L859.2,294.0 M866.7,295.7 L860.7,308.5 M868.7,297.5 L865.2,286.3 M871.7,299.5 L874.4,291.3 M881.9,295.5 L881.8,302.3 M888.0,294.8 L885.8,304.2 M891.9,292.5 L894.5,299.6 M897.9,298.5 L891.3,285.2 M899.8,295.2 L896.6,304.5 M904.8,301.4 L905.9,293.3 M910.5,301.5 L909.2,295.6 M913.2,300.5 L913.7,289.4 M919.6,294.7 L920.3,300.8 M925.4,294.1 L924.5,306.4 M931.3,299.1 L929.8,291.5" stroke="#141414" stroke-width="1.15" fill="none" stroke-linecap="round"/>
<path d="M567.5,297.5 C567.8,297.0 568.8,295.0 569.5,294.6 C570.2,294.3 570.8,295.1 571.5,295.5 C572.2,295.8 572.8,296.2 573.5,296.6 C574.2,296.9 574.8,297.2 575.5,297.5 C576.2,297.7 576.8,297.9 577.5,298.1 C578.2,298.3 578.8,298.4 579.5,298.5 C580.2,298.6 580.8,298.8 581.5,298.9 C582.2,299.0 582.8,299.1 583.5,299.2 C584.2,299.3 584.8,299.3 585.5,299.3 C586.2,299.2 586.8,299.1 587.5,298.9 C588.2,298.7 588.8,298.3 589.5,298.0 C590.2,297.6 590.8,297.2 591.5,296.9 C592.2,296.6 592.8,296.2 593.5,296.1 C594.2,296.0 594.8,295.9 595.5,296.1 C596.2,296.2 596.8,296.6 597.5,296.9 C598.2,297.3 598.8,297.8 599.5,298.2 C600.2,298.6 600.8,299.1 601.5,299.4 C602.2,299.6 602.8,299.7 603.5,299.7 C604.2,299.7 604.8,299.4 605.5,299.1 C606.2,298.8 606.8,298.3 607.5,297.9 C608.2,297.5 608.8,296.9 609.5,296.6 C610.2,296.2 610.8,295.8 611.5,295.6 C612.2,295.4 612.8,295.3 613.5,295.3 C614.2,295.3 614.8,295.3 615.5,295.4 C616.2,295.5 616.8,295.6 617.5,295.7 C618.2,295.8 618.8,295.9 619.5,296.1 C620.2,296.2 620.8,296.3 621.5,296.5 C622.2,296.7 622.8,297.0 623.5,297.3 C624.2,297.6 624.8,298.0 625.5,298.3 C626.2,298.7 626.8,299.1 627.5,299.4 C628.2,299.7 628.8,300.0 629.5,300.1 C630.2,300.2 630.8,300.1 631.5,299.9 C632.2,299.7 632.8,299.3 633.5,298.9 C634.2,298.5 634.8,297.9 635.5,297.5 C636.2,297.1 636.8,296.6 637.5,296.3 C638.2,296.0 638.8,295.8 639.5,295.9 C640.2,295.9 640.8,296.1 641.5,296.4 C642.2,296.6 642.8,297.1 643.5,297.5 C644.2,297.8 644.8,298.3 645.5,298.5 C646.2,298.8 646.8,299.0 647.5,299.1 C648.2,299.2 648.8,299.1 649.5,299.0 C650.2,298.9 650.8,298.6 651.5,298.4 C652.2,298.2 652.8,297.9 653.5,297.7 C654.2,297.4 654.8,297.2 655.5,297.1 C656.2,296.9 656.8,296.7 657.5,296.6 C658.2,296.4 658.8,296.3 659.5,296.1 C660.2,296.0 660.8,295.7 661.5,295.6 C662.2,295.4 662.8,295.2 663.5,295.1 C664.2,295.1 664.8,295.0 665.5,295.1 C666.2,295.2 666.8,295.5 667.5,295.8 C668.2,296.2 668.8,296.7 669.5,297.2 C670.2,297.7 670.8,298.4 671.5,298.9 C672.2,299.3 672.8,299.8 673.5,300.1 C674.2,300.4 674.8,300.5 675.5,300.4 C676.2,300.4 676.8,300.1 677.5,299.7 C678.2,299.4 678.8,298.9 679.5,298.4 C680.2,298.0 680.8,297.5 681.5,297.1 C682.2,296.8 682.8,296.5 683.5,296.4 C684.2,296.3 684.8,296.4 685.5,296.5 C686.2,296.6 686.8,296.8 687.5,297.0 C688.2,297.2 688.8,297.5 689.5,297.6 C690.2,297.8 690.8,297.9 691.5,298.0 C692.2,298.1 692.8,298.1 693.5,298.2 C694.2,298.2 694.8,298.2 695.5,298.2 C696.2,298.2 696.8,298.2 697.5,298.2 C698.2,298.2 698.8,298.3 699.5,298.3 C700.2,298.2 700.8,298.2 701.5,298.0 C702.2,297.9 702.8,297.6 703.5,297.3 C704.2,297.0 704.8,296.6 705.5,296.2 C706.2,295.8 706.8,295.4 707.5,295.0 C708.2,294.7 708.8,294.5 709.5,294.4 C710.2,294.3 710.8,294.4 711.5,294.7 C712.2,295.0 712.8,295.5 713.5,296.0 C714.2,296.5 714.8,297.2 715.5,297.7 C716.2,298.3 716.8,298.9 717.5,299.3 C718.2,299.7 718.8,300.0 719.5,300.1 C720.2,300.2 720.8,300.1 721.5,299.9 C722.2,299.8 722.8,299.4 723.5,299.2 C724.2,298.9 724.8,298.5 725.5,298.2 C726.2,298.0 726.8,297.7 727.5,297.6 C728.2,297.4 728.8,297.3 729.5,297.3 C730.2,297.2 730.8,297.2 731.5,297.2 C732.2,297.2 732.8,297.1 733.5,297.1 C734.2,297.1 734.8,297.0 735.5,297.0 C736.2,297.0 736.8,297.0 737.5,297.0 C738.2,297.1 738.8,297.2 739.5,297.4 C740.2,297.6 740.8,297.8 741.5,298.1 C742.2,298.3 742.8,298.6 743.5,298.8 C744.2,299.0 744.8,299.1 745.5,299.1 C746.2,299.0 746.8,298.9 747.5,298.5 C748.2,298.2 748.8,297.7 749.5,297.3 C750.2,296.8 750.8,296.2 751.5,295.7 C752.2,295.2 752.8,294.8 753.5,294.5 C754.2,294.3 754.8,294.2 755.5,294.3 C756.2,294.4 756.8,294.7 757.5,295.1 C758.2,295.5 758.8,296.1 759.5,296.5 C760.2,297.0 760.8,297.6 761.5,298.0 C762.2,298.4 762.8,298.7 763.5,298.9 C764.2,299.2 764.8,299.3 765.5,299.3 C766.2,299.4 766.8,299.3 767.5,299.3 C768.2,299.2 768.8,299.1 769.5,299.1 C770.2,299.0 770.8,299.0 771.5,298.9 C772.2,298.8 772.8,298.7 773.5,298.6 C774.2,298.4 774.8,298.3 775.5,298.0 C776.2,297.8 776.8,297.5 777.5,297.3 C778.2,297.0 778.8,296.7 779.5,296.5 C780.2,296.3 780.8,296.1 781.5,296.1 C782.2,296.1 782.8,296.2 783.5,296.4 C784.2,296.6 784.8,297.0 785.5,297.4 C786.2,297.8 786.8,298.3 787.5,298.6 C788.2,298.9 788.8,299.3 789.5,299.4 C790.2,299.5 790.8,299.5 791.5,299.3 C792.2,299.1 792.8,298.7 793.5,298.2 C794.2,297.8 794.8,297.2 795.5,296.7 C796.2,296.3 796.8,295.8 797.5,295.4 C798.2,295.1 798.8,294.9 799.5,294.8 C800.2,294.8 800.8,294.9 801.5,295.0 C802.2,295.2 802.8,295.5 803.5,295.8 C804.2,296.0 804.8,296.4 805.5,296.6 C806.2,296.9 806.8,297.2 807.5,297.4 C808.2,297.6 808.8,297.8 809.5,298.0 C810.2,298.2 810.8,298.4 811.5,298.6 C812.2,298.8 812.8,299.0 813.5,299.2 C814.2,299.4 814.8,299.7 815.5,299.8 C816.2,299.9 816.8,299.9 817.5,299.8 C818.2,299.7 818.8,299.5 819.5,299.2 C820.2,298.9 820.8,298.4 821.5,298.0 C822.2,297.6 822.8,297.0 823.5,296.7 C824.2,296.3 824.8,295.9 825.5,295.8 C826.2,295.6 826.8,295.6 827.5,295.8 C828.2,295.9 828.8,296.3 829.5,296.6 C830.2,297.0 830.8,297.5 831.5,297.9 C832.2,298.3 832.8,298.7 833.5,298.9 C834.2,299.1 834.8,299.2 835.5,299.2 C836.2,299.2 836.8,298.9 837.5,298.7 C838.2,298.4 838.8,298.0 839.5,297.6 C840.2,297.3 840.8,296.9 841.5,296.6 C842.2,296.4 842.8,296.1 843.5,296.0 C844.2,295.9 844.8,295.8 845.5,295.7 C846.2,295.7 846.8,295.7 847.5,295.7 C848.2,295.7 848.8,295.7 849.5,295.8 C850.2,295.8 850.8,295.8 851.5,295.9 C852.2,296.0 852.8,296.2 853.5,296.4 C854.2,296.6 854.8,297.0 855.5,297.3 C856.2,297.7 856.8,298.2 857.5,298.6 C858.2,299.1 858.8,299.6 859.5,299.9 C860.2,300.2 860.8,300.5 861.5,300.5 C862.2,300.6 862.8,300.5 863.5,300.2 C864.2,300.0 864.8,299.5 865.5,299.0 C866.2,298.6 866.8,297.9 867.5,297.5 C868.2,297.0 868.8,296.5 869.5,296.2 C870.2,296.0 870.8,295.8 871.5,295.8 C872.2,295.8 872.8,296.0 873.5,296.2 C874.2,296.5 874.8,296.9 875.5,297.2 C876.2,297.4 876.8,297.8 877.5,298.0 C878.2,298.2 878.8,298.4 879.5,298.4 C880.2,298.5 880.8,298.4 881.5,298.3 C882.2,298.3 882.8,298.1 883.5,298.0 C884.2,297.9 884.8,297.8 885.5,297.7 C886.2,297.5 886.8,297.5 887.5,297.4 C888.2,297.3 888.8,297.2 889.5,297.0 C890.2,296.8 890.8,296.6 891.5,296.4 C892.2,296.2 892.8,295.9 893.5,295.7 C894.2,295.5 894.8,295.2 895.5,295.1 C896.2,295.0 896.8,295.0 897.5,295.1 C898.2,295.2 898.8,295.5 899.5,295.9 C900.2,296.3 900.8,297.0 901.5,297.5 C902.2,298.0 902.8,298.7 903.5,299.2 C904.2,299.7 904.8,300.2 905.5,300.4 C906.2,300.6 906.8,300.7 907.5,300.6 C908.2,300.5 908.8,300.2 909.5,299.8 C910.2,299.5 910.8,298.9 911.5,298.5 C912.2,298.1 912.8,297.6 913.5,297.3 C914.2,297.0 914.8,296.8 915.5,296.6 C916.2,296.5 916.8,296.5 917.5,296.6 C918.2,296.6 918.8,296.7 919.5,296.8 C920.2,296.9 920.8,297.0 921.5,297.1 C922.2,297.2 922.8,297.2 923.5,297.3 C924.2,297.3 924.8,297.3 925.5,297.4 C926.2,297.5 926.8,297.6 927.5,297.7 C928.2,297.8 928.8,297.9 929.5,298.1 C930.2,298.2 930.8,298.3 931.5,298.4 C932.2,298.4 932.8,298.4 933.5,298.3 C934.2,298.1 934.8,297.9 935.5,297.5 C936.2,297.2 937.1,296.3 937.5,296.3 C937.9,296.3 937.9,297.3 938.0,297.5" stroke="#141414" stroke-width="2.5" fill="none" stroke-linejoin="round"/>
<path d="M938,265 L938,322 M938,333 L938,355 M938,374 L938,401.5 M938,412.5 L938,475.5 M938,297.3 L960,297.3 M938,444 L960,444" stroke="#141414" stroke-width="1.3" fill="none"/>
<path d="M750,169.4 L578,261" stroke="#141414" stroke-width="2.4" fill="none"/>
<polygon points="563.5,268.8 576.5,253 586,267.5" fill="#141414"/>
<path d="M645,530 L563,410" stroke="#141414" stroke-width="2.4" fill="none"/>
<polygon points="553.5,396 573,407.5 558.5,416.5" fill="#141414"/>
<text x="773" y="169" font-family="'Liberation Sans', Arial, sans-serif" font-size="31.5" fill="#111" letter-spacing="1">burr</text>
<text x="661.5" y="555.5" font-family="'Liberation Sans', Arial, sans-serif" font-size="31.5" fill="#111" letter-spacing="1">burr</text>
<path d="M-5.0,40.3 L60.0,40.3 L100.0,40.3 L118.0,40.8 L133.0,42.5 L160.0,48.0 L185.0,57.5 L210.0,68.5 L250.0,91.0 L275.0,109.0 L300.0,126.0 L325.0,144.0 L350.0,160.0 L375.0,176.0 L400.0,192.5 L415.0,202.0 L440.0,220.0 L466.0,237.5 L481.0,247.8 L498.0,262.0 L500.0,295.5 L500.0,295.5 L450.0,266.8 L440.0,261.0 L400.0,240.0 L350.0,211.0 L315.0,192.5 L300.0,185.0 L275.0,170.0 L250.0,155.8 L225.0,142.0 L200.0,127.5 L175.0,113.8 L150.0,100.6 L130.0,90.0 L130.1,89.9 L123.7,85.7 L117.3,81.7 L110.8,77.9 L104.2,74.2 L97.4,70.7 L90.6,67.4 L83.8,64.3 L76.8,61.4 L69.8,58.7 L62.7,56.2 L55.5,53.8 L48.3,51.7 L41.0,49.7 L33.7,48.0 L26.3,46.5 L18.9,45.1 L11.5,44.0 L4.0,43.1 L-3.4,42.3 L-10.9,41.8 L-18.4,41.5 L-25.9,41.4 L-33.4,41.5 L-40.9,41.8Z" fill="#fdfdfd"/>
<path d="M130.1,89.9 L137.7,95.3 L145.1,100.9 L152.4,106.8 L159.4,112.9 L166.3,119.3 L173.0,125.9 L179.4,132.7 L185.7,139.7 L191.7,146.9 L197.5,154.3 L203.0,161.9 L208.3,169.7 L213.4,177.7 L218.2,185.8 L222.7,194.1 L227.0,202.5 L231.1,211.1 L234.8,219.8 L238.3,228.7 L241.5,237.6 L244.4,246.7 L247.0,255.8 L249.4,265.0 L251.4,274.3 L253.2,283.7 L254.7,293.1 L255.8,302.6 L256.7,312.0 L257.3,321.6 L257.6,331.1 L257.6,340.6 L257.2,350.2 L256.6,359.7 L255.7,369.2 L254.5,378.6 L253.0,388.0 L251.2,397.4 L249.1,406.7 L246.7,415.9 L244.0,425.0 L241.1,434.0 L237.8,443.0 L234.3,451.8 L230.5,460.5 L226.5,469.0 L222.1,477.5 L217.5,485.7 L212.7,493.8 L207.6,501.8 L202.2,509.5 L196.7,517.1 L190.8,524.5 L184.8,531.7 L178.5,538.7 L172.0,545.5 L165.3,552.0 L158.4,558.3 L151.4,564.4 L144.1,570.3 L136.6,575.9 L140.8,577.0 L162.5,570.0 L216.7,544.5 L260.0,522.8 L285.0,510.0 L285.0,510.0 L289.0,504.6 L292.8,499.2 L296.5,493.7 L300.1,488.1 L303.6,482.4 L306.9,476.6 L310.1,470.8 L313.2,464.8 L316.2,458.8 L319.0,452.8 L321.7,446.6 L324.2,440.4 L326.6,434.2 L328.9,427.9 L331.0,421.5 L333.0,415.1 L334.8,408.6 L336.5,402.1 L338.1,395.6 L339.5,389.0 L340.8,382.4 L341.9,375.8 L342.9,369.1 L343.7,362.5 L344.4,355.8 L344.9,349.1 L345.3,342.3 L345.5,335.6 L345.6,328.9 L345.5,322.1 L345.3,315.4 L345.0,308.7 L344.4,302.0 L343.8,295.3 L343.0,288.6 L342.0,281.9 L340.9,275.3 L339.7,268.7 L338.3,262.1 L336.7,255.6 L335.0,249.1 L333.2,242.6 L331.2,236.2 L329.1,229.8 L326.9,223.5 L324.5,217.3 L321.9,211.1 L319.3,204.9 L316.5,198.8 L313.5,192.8 L315.0,192.5 L300.0,185.0 L275.0,170.0 L250.0,155.8 L225.0,142.0 L200.0,127.5 L175.0,113.8 L150.0,100.6 L130.0,90.0Z" fill="url(#gside)"/>
<g><clipPath id="cside"><path d="M130.1,89.9 L137.7,95.3 L145.1,100.9 L152.4,106.8 L159.4,112.9 L166.3,119.3 L173.0,125.9 L179.4,132.7 L185.7,139.7 L191.7,146.9 L197.5,154.3 L203.0,161.9 L208.3,169.7 L213.4,177.7 L218.2,185.8 L222.7,194.1 L227.0,202.5 L231.1,211.1 L234.8,219.8 L238.3,228.7 L241.5,237.6 L244.4,246.7 L247.0,255.8 L249.4,265.0 L251.4,274.3 L253.2,283.7 L254.7,293.1 L255.8,302.6 L256.7,312.0 L257.3,321.6 L257.6,331.1 L257.6,340.6 L257.2,350.2 L256.6,359.7 L255.7,369.2 L254.5,378.6 L253.0,388.0 L251.2,397.4 L249.1,406.7 L246.7,415.9 L244.0,425.0 L241.1,434.0 L237.8,443.0 L234.3,451.8 L230.5,460.5 L226.5,469.0 L222.1,477.5 L217.5,485.7 L212.7,493.8 L207.6,501.8 L202.2,509.5 L196.7,517.1 L190.8,524.5 L184.8,531.7 L178.5,538.7 L172.0,545.5 L165.3,552.0 L158.4,558.3 L151.4,564.4 L144.1,570.3 L136.6,575.9 L140.8,577.0 L162.5,570.0 L216.7,544.5 L260.0,522.8 L285.0,510.0 L285.0,510.0 L289.0,504.6 L292.8,499.2 L296.5,493.7 L300.1,488.1 L303.6,482.4 L306.9,476.6 L310.1,470.8 L313.2,464.8 L316.2,458.8 L319.0,452.8 L321.7,446.6 L324.2,440.4 L326.6,434.2 L328.9,427.9 L331.0,421.5 L333.0,415.1 L334.8,408.6 L336.5,402.1 L338.1,395.6 L339.5,389.0 L340.8,382.4 L341.9,375.8 L342.9,369.1 L343.7,362.5 L344.4,355.8 L344.9,349.1 L345.3,342.3 L345.5,335.6 L345.6,328.9 L345.5,322.1 L345.3,315.4 L345.0,308.7 L344.4,302.0 L343.8,295.3 L343.0,288.6 L342.0,281.9 L340.9,275.3 L339.7,268.7 L338.3,262.1 L336.7,255.6 L335.0,249.1 L333.2,242.6 L331.2,236.2 L329.1,229.8 L326.9,223.5 L324.5,217.3 L321.9,211.1 L319.3,204.9 L316.5,198.8 L313.5,192.8 L315.0,192.5 L300.0,185.0 L275.0,170.0 L250.0,155.8 L225.0,142.0 L200.0,127.5 L175.0,113.8 L150.0,100.6 L130.0,90.0Z"/></clipPath><g clip-path="url(#cside)"><polygon points="160,80 350,215 343,272 240,235" fill="#fbfbfb" filter="url(#blur6)"/></g></g>
<path d="M150.0,100.6 L175.0,113.8 L200.0,127.5 L225.0,142.0 L250.0,155.8 L275.0,170.0 L300.0,185.0 L315.0,192.5 L325.0,217.5 L335.0,250.0 L336.0,250.0 L332.0,245.5 L282.0,202.5 L250.0,177.0 L200.0,139.0 L163.0,110.0Z" fill="url(#gshadow)"/>
<path d="M300.0,470.0 L310.0,472.5 L297.5,495.0 L285.0,510.0 L260.0,522.8 L216.7,544.5 L162.5,570.0 L160.0,562.0 L260.0,497.0Z" fill="#cacaca"/>
<path d="M313.5,192.8 L316.5,198.8 L319.3,204.9 L321.9,211.1 L324.5,217.3 L326.9,223.5 L329.1,229.8 L331.2,236.2 L333.2,242.6 L335.0,249.1 L336.7,255.6 L338.3,262.1 L339.7,268.7 L340.9,275.3 L342.0,281.9 L343.0,288.6 L343.8,295.3 L344.4,302.0 L345.0,308.7 L345.3,315.4 L345.5,322.1 L345.6,328.9 L345.5,335.6 L345.3,342.3 L344.9,349.1 L344.4,355.8 L343.7,362.5 L342.9,369.1 L341.9,375.8 L340.8,382.4 L339.5,389.0 L338.1,395.6 L336.5,402.1 L334.8,408.6 L333.0,415.1 L331.0,421.5 L328.9,427.9 L326.6,434.2 L324.2,440.4 L321.7,446.6 L319.0,452.8 L316.2,458.8 L313.2,464.8 L310.1,470.8 L306.9,476.6 L303.6,482.4 L300.1,488.1 L296.5,493.7 L292.8,499.2 L289.0,504.6 L285.0,510.0" fill="none" stroke="#141414" stroke-width="2.5"/>
<path d="M-5.0,40.3 C5.8,40.3 42.5,40.3 60.0,40.3 C77.5,40.3 90.3,40.2 100.0,40.3 C109.7,40.4 112.5,40.4 118.0,40.8 C123.5,41.2 126.0,41.3 133.0,42.5 C140.0,43.7 151.3,45.5 160.0,48.0 C168.7,50.5 176.7,54.1 185.0,57.5 C193.3,60.9 199.2,62.9 210.0,68.5 C220.8,74.1 239.2,84.2 250.0,91.0 C260.8,97.8 266.7,103.2 275.0,109.0 C283.3,114.8 291.7,120.2 300.0,126.0 C308.3,131.8 316.7,138.3 325.0,144.0 C333.3,149.7 341.7,154.7 350.0,160.0 C358.3,165.3 366.7,170.6 375.0,176.0 C383.3,181.4 393.3,188.2 400.0,192.5 C406.7,196.8 408.3,197.4 415.0,202.0 C421.7,206.6 431.5,214.1 440.0,220.0 C448.5,225.9 459.2,232.9 466.0,237.5 C472.8,242.1 475.7,243.7 481.0,247.8 C486.3,251.9 495.2,259.6 498.0,262.0" fill="none" stroke="#141414" stroke-width="2.6"/>
<path d="M130.0,90.0 C133.3,91.8 142.5,96.6 150.0,100.6 C157.5,104.6 166.7,109.3 175.0,113.8 C183.3,118.2 191.7,122.8 200.0,127.5 C208.3,132.2 216.7,137.3 225.0,142.0 C233.3,146.7 241.7,151.1 250.0,155.8 C258.3,160.5 266.7,165.1 275.0,170.0 C283.3,174.9 293.3,181.2 300.0,185.0 C306.7,188.8 306.7,188.2 315.0,192.5 C323.3,196.8 335.8,203.1 350.0,211.0 C364.2,218.9 385.0,231.7 400.0,240.0 C415.0,248.3 431.7,256.5 440.0,261.0 C448.3,265.5 440.0,261.1 450.0,266.8 C460.0,272.6 491.7,290.7 500.0,295.5" fill="none" stroke="#141414" stroke-width="2.6"/>
<path d="M498.0,262.0 C497.2,262.8 494.2,264.8 493.0,266.5 C491.8,268.2 491.0,270.2 490.5,272.0 C490.0,273.8 489.8,275.3 490.0,277.0 C490.2,278.7 490.8,280.4 491.5,282.0 C492.2,283.6 493.1,285.0 494.0,286.5 C494.9,288.0 496.0,289.5 497.0,291.0 C498.0,292.5 499.5,294.8 500.0,295.5 L512,296 L531,296  C530.9,290.8 529.9,283.8 528.0,280.0 C526.1,276.2 523.2,272.8 520.0,270.0 C516.8,267.2 512.7,264.8 509.0,263.5 C505.3,262.2 499.8,262.2 498.0,262.0Z" fill="#fdfdfd"/>
<path d="M498.0,262.0 C497.2,262.8 494.2,264.8 493.0,266.5 C491.8,268.2 491.0,270.2 490.5,272.0 C490.0,273.8 489.8,275.3 490.0,277.0 C490.2,278.7 490.8,280.4 491.5,282.0 C492.2,283.6 493.1,285.0 494.0,286.5 C494.9,288.0 496.0,289.5 497.0,291.0 C498.0,292.5 499.5,294.8 500.0,295.5" fill="none" stroke="#141414" stroke-width="2.5" stroke-linecap="round"/>
<path d="M498.0,262.0 C499.8,262.2 505.3,262.2 509.0,263.5 C512.7,264.8 516.8,267.2 520.0,270.0 C523.2,272.8 526.1,276.2 528.0,280.0 C529.9,283.8 531.2,288.7 531.5,293.0 C531.8,297.3 530.2,303.8 530.0,306.0" fill="none" stroke="#141414" stroke-width="2.5" stroke-linecap="round"/>
<path d="M494.0,281.0 C494.8,280.5 497.1,278.4 499.0,278.0 C500.9,277.6 503.6,277.8 505.5,278.5 C507.4,279.2 509.2,280.6 510.5,282.0 C511.8,283.4 512.4,285.2 513.0,287.0 C513.6,288.8 513.9,290.8 514.0,292.5 C514.1,294.2 513.8,295.9 513.5,297.5 C513.2,299.1 513.0,300.6 512.5,302.0 C512.0,303.4 511.3,305.0 510.6,306.0 C509.9,307.0 508.9,307.7 508.5,308.0" fill="none" stroke="#141414" stroke-width="2.5" stroke-linecap="round"/>
<path d="M500,296.5 L511.5,296.5" stroke="#141414" stroke-width="2.5" fill="none"/>
<polygon points="317,194 327,200 322,206" fill="#fdfdfd" stroke="#141414" stroke-width="1.2"/>
<path d="M419.0,445.2 L378.0,464.7 L330.0,488.0 L285.0,510.0 L260.0,522.8 L216.7,544.5 L162.5,570.0 L140.8,577.0 L127.0,584.0 L27.0,623.0 L40.6,620.3 L94.8,613.5 L135.4,606.8 L176.0,594.6 L216.7,575.6 L260.0,551.0 L325.0,517.5 L403.0,477.3 L437.5,459.0 L465.0,444.0Z" fill="url(#gbstrip)"/>
<path d="M419.0,445.2 C412.2,448.4 392.8,457.6 378.0,464.7 C363.2,471.8 345.5,480.4 330.0,488.0 C314.5,495.6 296.7,504.2 285.0,510.0 C273.3,515.8 271.4,517.0 260.0,522.8 C248.6,528.5 232.9,536.6 216.7,544.5 C200.4,552.4 175.2,564.6 162.5,570.0 C149.8,575.4 146.7,574.7 140.8,577.0 C134.9,579.3 129.3,582.8 127.0,584.0" fill="none" stroke="#141414" stroke-width="2.5"/>
<path d="M465.0,444.0 C460.4,446.5 447.8,453.4 437.5,459.0 C427.2,464.6 421.8,467.6 403.0,477.3 C384.2,487.1 348.8,505.2 325.0,517.5 C301.2,529.8 278.1,541.3 260.0,551.0 C241.9,560.7 230.7,568.3 216.7,575.6 C202.7,582.9 189.6,589.4 176.0,594.6 C162.4,599.8 148.9,603.6 135.4,606.8 C121.9,609.9 110.6,611.2 94.8,613.5 C79.0,615.8 51.9,618.7 40.6,620.3 C29.3,621.9 29.3,622.5 27.0,623.0" fill="none" stroke="#141414" stroke-width="2.5"/>
<ellipse cx="-26.1" cy="335.2" rx="283.7" ry="293.8" fill="#e3e3e3"/>
<g clip-path="url(#cfront)" fill="none" stroke="#686868" stroke-width="1.05">
<ellipse cx="-27.4" cy="331.1" rx="119.3" ry="123.9"/>
<ellipse cx="-27.3" cy="331.2" rx="123.5" ry="128.3"/>
<ellipse cx="-27.3" cy="331.3" rx="127.1" ry="132.0"/>
<ellipse cx="-27.3" cy="331.4" rx="131.9" ry="137.0"/>
<ellipse cx="-27.2" cy="331.5" rx="136.8" ry="142.1"/>
<ellipse cx="-27.2" cy="331.7" rx="141.7" ry="147.1"/>
<ellipse cx="-27.2" cy="331.8" rx="146.6" ry="152.2"/>
<ellipse cx="-27.1" cy="331.9" rx="151.5" ry="157.2"/>
<ellipse cx="-27.1" cy="332.0" rx="156.4" ry="162.3"/>
<ellipse cx="-27.0" cy="332.2" rx="161.3" ry="167.4"/>
<ellipse cx="-27.0" cy="332.3" rx="166.2" ry="172.4"/>
<ellipse cx="-26.9" cy="332.7" rx="184.8" ry="191.6"/>
<ellipse cx="-26.8" cy="332.9" rx="189.7" ry="196.7"/>
<ellipse cx="-26.7" cy="333.1" rx="200.5" ry="207.8"/>
<ellipse cx="-26.7" cy="333.3" rx="209.3" ry="216.9"/>
<ellipse cx="-26.6" cy="333.4" rx="213.3" ry="221.1"/>
<ellipse cx="-26.6" cy="333.6" rx="218.2" ry="226.1"/>
<ellipse cx="-26.6" cy="333.7" rx="222.9" ry="231.0"/>
<ellipse cx="-26.5" cy="333.8" rx="227.0" ry="235.2"/>
<ellipse cx="-26.5" cy="333.9" rx="230.9" ry="239.2"/>
<ellipse cx="-26.4" cy="334.1" rx="240.7" ry="249.3"/>
<ellipse cx="-26.4" cy="334.3" rx="245.6" ry="254.4"/>
<ellipse cx="-26.4" cy="334.4" rx="250.4" ry="259.4"/>
<ellipse cx="-26.3" cy="334.5" rx="257.4" ry="266.6"/>
<ellipse cx="-26.3" cy="334.7" rx="262.1" ry="271.5"/>
<ellipse cx="-26.2" cy="334.8" rx="268.2" ry="277.8"/>
<ellipse cx="-26.2" cy="335.0" rx="273.9" ry="283.7"/>
<ellipse cx="-26.1" cy="335.1" rx="278.8" ry="288.7"/>
</g>
<ellipse cx="-26.1" cy="335.2" rx="283.7" ry="293.8" fill="none" stroke="#141414" stroke-width="2.6"/>
<ellipse cx="-27.4" cy="331" rx="114.9" ry="119.4" fill="#fdfdfd" stroke="#141414" stroke-width="2"/>
<ellipse cx="-27.4" cy="331" rx="102.8" ry="106.9" fill="#b5b5b5" stroke="#141414" stroke-width="2.6"/>
<ellipse cx="-27.4" cy="331" rx="81.2" ry="84.6" fill="none" stroke="#141414" stroke-width="1"/>
<ellipse cx="-27.4" cy="331" rx="57.2" ry="59.5" fill="#fdfdfd" stroke="#141414" stroke-width="2.6"/>
<path d="M-1,378.5 L10.5,376.5 L5,381 L-1,384Z" fill="#b5b5b5"/>
<path d="M-1,378.5 L10.5,376.5" stroke="#141414" stroke-width="2.2" fill="none"/>
<path d="M359.2,445.3 L362.4,435.2 M367.1,444.5 L366.9,448.5 M375.5,440.8 L369.7,452.9 M383.4,448.4 L382.1,437.7 M386.5,450.0 L385.4,438.5 M391.2,448.9 L391.0,437.8 M397.7,445.7 L395.2,429.7 M403.5,440.0 L404.5,444.7 M408.3,443.9 L407.9,437.0 M413.5,449.1 L409.2,440.2 M414.4,451.0 L414.7,441.5 M420.5,445.5 L417.9,436.3 M423.7,443.9 L420.5,431.3 M427.9,446.9 L428.1,439.4 M434.4,449.0 L440.1,430.5 M438.6,450.0 L439.7,439.6 M441.4,440.5 L442.8,455.9 M444.3,444.3 L447.4,438.0 M451.2,443.1 L447.4,431.7 M453.0,444.8 L457.5,435.9 M461.2,447.1 L456.4,432.9 M467.8,447.5 L462.8,435.7 M469.6,448.1 L475.5,428.6 M479.2,446.0 L484.8,434.3 M485.0,450.0 L488.7,434.6 M494.6,445.5 L489.9,435.1 M495.5,445.4 L497.7,435.5 M500.5,445.5 L501.4,435.1 M503.8,446.4 L502.6,429.4 M508.5,442.0 L509.7,450.2 M516.7,446.6 L513.7,439.8 M519.6,446.1 L523.2,438.9 M527.3,445.4 L525.3,450.8 M534.2,448.8 L531.0,441.0 M541.0,438.3 L539.8,446.5 M549.2,443.8 L552.0,449.8 M555.6,446.5 L557.1,434.1 M560.8,449.2 L556.2,440.3 M566.5,446.8 L567.5,428.9 M570.2,443.9 L569.5,447.7 M573.0,443.5 L573.0,449.5 M581.9,444.3 L582.7,438.3 M589.4,444.5 L587.5,432.4 M597.3,447.5 L600.5,436.8 M606.5,441.8 L605.7,448.6 M610.5,446.9 L613.2,429.0 M614.5,445.0 L611.4,435.5 M620.5,443.0 L619.3,457.0 M625.7,448.3 L628.8,430.8 M631.2,444.9 L630.4,434.2 M639.1,443.6 L639.9,435.4 M648.5,451.0 L645.3,440.1 M651.4,448.7 L648.4,429.2 M659.7,442.9 L661.4,448.2 M667.6,444.1 L669.3,452.2 M672.5,450.0 L672.5,429.5 M676.0,442.8 L679.8,451.8 M685.6,441.7 L685.3,446.9 M694.6,449.8 L693.3,429.9 M703.3,439.9 L701.6,450.1 M705.6,440.5 L707.6,454.8 M709.1,441.8 L711.6,446.8 M718.3,446.7 L719.2,441.0 M724.3,442.3 L724.4,432.7 M732.0,445.8 L734.1,439.3 M742.7,449.3 L737.5,439.5 M748.1,447.2 L741.2,432.2 M756.2,446.9 L756.8,436.2 M764.9,449.2 L764.6,438.3 M773.1,445.4 L766.2,431.0 M779.5,445.7 L775.2,437.1 M784.8,446.3 L790.9,430.9 M790.4,448.4 L790.3,441.3 M798.2,443.8 L804.1,429.9 M807.3,448.3 L810.5,434.3 M811.5,445.4 L811.1,430.4 M815.8,446.1 L820.3,434.3 M819.3,443.8 L823.7,435.2 M826.5,447.4 L833.0,431.2 M832.1,449.9 L829.5,437.9 M841.1,446.4 L836.4,432.1 M846.3,441.6 L847.6,451.1 M854.3,448.4 L857.0,438.3 M863.1,439.0 L864.1,448.0 M867.3,440.4 L869.2,445.1 M872.3,440.9 L871.5,448.1 M880.4,449.1 L883.3,439.5 M891.3,447.8 L885.6,434.6 M893.1,447.3 L893.1,434.1 M895.6,447.5 L899.9,439.0 M904.6,444.4 L902.1,451.3 M908.0,442.7 L910.4,448.1 M911.9,440.6 L909.2,446.9 M916.8,445.7 L917.7,432.9 M920.5,443.1 L916.7,455.6 M925.2,447.1 L924.3,438.3 M934.3,447.9 L931.6,438.9" stroke="#141414" stroke-width="1.15" fill="none" stroke-linecap="round"/>
<path d="M357.0,444.3 C357.3,444.0 358.3,442.9 359.0,442.7 C359.7,442.5 360.3,442.9 361.0,443.0 C361.7,443.2 362.3,443.4 363.0,443.6 C363.7,443.9 364.3,444.2 365.0,444.5 C365.7,444.8 366.3,445.2 367.0,445.5 C367.7,445.8 368.3,446.0 369.0,446.1 C369.7,446.2 370.3,446.2 371.0,446.0 C371.7,445.9 372.3,445.5 373.0,445.2 C373.7,444.8 374.3,444.3 375.0,443.9 C375.7,443.5 376.3,443.1 377.0,442.9 C377.7,442.7 378.3,442.6 379.0,442.6 C379.7,442.7 380.3,443.0 381.0,443.4 C381.7,443.7 382.3,444.2 383.0,444.7 C383.7,445.1 384.3,445.6 385.0,445.9 C385.7,446.3 386.3,446.5 387.0,446.6 C387.7,446.7 388.3,446.7 389.0,446.6 C389.7,446.4 390.3,446.2 391.0,445.9 C391.7,445.7 392.3,445.3 393.0,445.1 C393.7,444.8 394.3,444.5 395.0,444.3 C395.7,444.1 396.3,443.9 397.0,443.7 C397.7,443.5 398.3,443.3 399.0,443.1 C399.7,442.9 400.3,442.7 401.0,442.5 C401.7,442.3 402.3,442.0 403.0,441.9 C403.7,441.8 404.3,441.7 405.0,441.8 C405.7,441.8 406.3,442.0 407.0,442.3 C407.7,442.6 408.3,443.1 409.0,443.5 C409.7,444.0 410.3,444.6 411.0,445.0 C411.7,445.5 412.3,446.0 413.0,446.2 C413.7,446.5 414.3,446.6 415.0,446.5 C415.7,446.5 416.3,446.2 417.0,445.9 C417.7,445.6 418.3,445.1 419.0,444.7 C419.7,444.3 420.3,443.8 421.0,443.5 C421.7,443.2 422.3,443.0 423.0,443.0 C423.7,442.9 424.3,443.0 425.0,443.2 C425.7,443.4 426.3,443.7 427.0,444.0 C427.7,444.3 428.3,444.6 429.0,444.9 C429.7,445.1 430.3,445.3 431.0,445.5 C431.7,445.6 432.3,445.7 433.0,445.7 C433.7,445.8 434.3,445.7 435.0,445.7 C435.7,445.7 436.3,445.7 437.0,445.7 C437.7,445.7 438.3,445.7 439.0,445.6 C439.7,445.5 440.3,445.4 441.0,445.3 C441.7,445.1 442.3,444.8 443.0,444.5 C443.7,444.1 444.3,443.6 445.0,443.2 C445.7,442.8 446.3,442.3 447.0,441.9 C447.7,441.6 448.3,441.2 449.0,441.1 C449.7,441.0 450.3,441.1 451.0,441.3 C451.7,441.5 452.3,441.9 453.0,442.4 C453.7,442.8 454.3,443.5 455.0,444.0 C455.7,444.5 456.3,445.1 457.0,445.5 C457.7,445.9 458.3,446.2 459.0,446.2 C459.7,446.3 460.3,446.2 461.0,446.1 C461.7,445.9 462.3,445.6 463.0,445.3 C463.7,445.1 464.3,444.7 465.0,444.5 C465.7,444.2 466.3,444.0 467.0,443.9 C467.7,443.8 468.3,443.8 469.0,443.8 C469.7,443.8 470.3,443.9 471.0,444.0 C471.7,444.0 472.3,444.1 473.0,444.2 C473.7,444.2 474.3,444.2 475.0,444.3 C475.7,444.3 476.3,444.4 477.0,444.5 C477.7,444.6 478.3,444.7 479.0,444.9 C479.7,445.1 480.3,445.4 481.0,445.6 C481.7,445.8 482.3,446.1 483.0,446.3 C483.7,446.4 484.3,446.5 485.0,446.4 C485.7,446.4 486.3,446.2 487.0,445.8 C487.7,445.5 488.3,444.9 489.0,444.4 C489.7,443.9 490.3,443.2 491.0,442.7 C491.7,442.2 492.3,441.7 493.0,441.4 C493.7,441.1 494.3,440.9 495.0,441.0 C495.7,441.0 496.3,441.3 497.0,441.6 C497.7,441.9 498.3,442.5 499.0,442.9 C499.7,443.4 500.3,443.9 501.0,444.3 C501.7,444.7 502.3,445.0 503.0,445.2 C503.7,445.4 504.3,445.5 505.0,445.5 C505.7,445.6 506.3,445.5 507.0,445.4 C507.7,445.4 508.3,445.3 509.0,445.2 C509.7,445.1 510.3,445.1 511.0,445.1 C511.7,445.0 512.3,445.0 513.0,444.9 C513.7,444.8 514.3,444.7 515.0,444.6 C515.7,444.5 516.3,444.2 517.0,444.1 C517.7,443.9 518.3,443.7 519.0,443.5 C519.7,443.4 520.3,443.3 521.0,443.4 C521.7,443.4 522.3,443.6 523.0,443.8 C523.7,444.1 524.3,444.5 525.0,444.9 C525.7,445.3 526.3,445.8 527.0,446.1 C527.7,446.5 528.3,446.8 529.0,446.9 C529.7,447.0 530.3,446.9 531.0,446.7 C531.7,446.5 532.3,446.0 533.0,445.5 C533.7,445.1 534.3,444.4 535.0,443.9 C535.7,443.4 536.3,442.8 537.0,442.4 C537.7,442.0 538.3,441.7 539.0,441.6 C539.7,441.5 540.3,441.5 541.0,441.6 C541.7,441.7 542.3,442.0 543.0,442.2 C543.7,442.5 544.3,442.8 545.0,443.0 C545.7,443.3 546.3,443.5 547.0,443.7 C547.7,443.9 548.3,444.1 549.0,444.3 C549.7,444.4 550.3,444.6 551.0,444.8 C551.7,445.0 552.3,445.2 553.0,445.4 C553.7,445.5 554.3,445.8 555.0,445.9 C555.7,446.0 556.3,446.1 557.0,446.0 C557.7,446.0 558.3,445.8 559.0,445.6 C559.7,445.4 560.3,445.0 561.0,444.6 C561.7,444.3 562.3,443.8 563.0,443.5 C563.7,443.2 564.3,442.9 565.0,442.8 C565.7,442.7 566.3,442.8 567.0,443.0 C567.7,443.2 568.3,443.6 569.0,444.0 C569.7,444.4 570.3,445.0 571.0,445.4 C571.7,445.8 572.3,446.3 573.0,446.5 C573.7,446.7 574.3,446.8 575.0,446.8 C575.7,446.7 576.3,446.4 577.0,446.1 C577.7,445.8 578.3,445.3 579.0,444.9 C579.7,444.5 580.3,444.1 581.0,443.7 C581.7,443.4 582.3,443.1 583.0,442.9 C583.7,442.7 584.3,442.6 585.0,442.5 C585.7,442.4 586.3,442.4 587.0,442.3 C587.7,442.3 588.3,442.3 589.0,442.3 C589.7,442.3 590.3,442.3 591.0,442.4 C591.7,442.4 592.3,442.5 593.0,442.7 C593.7,442.9 594.3,443.2 595.0,443.6 C595.7,443.9 596.3,444.4 597.0,444.8 C597.7,445.2 598.3,445.7 599.0,446.0 C599.7,446.3 600.3,446.6 601.0,446.7 C601.7,446.8 602.3,446.7 603.0,446.5 C603.7,446.3 604.3,445.9 605.0,445.5 C605.7,445.1 606.3,444.5 607.0,444.1 C607.7,443.7 608.3,443.3 609.0,443.0 C609.7,442.8 610.3,442.7 611.0,442.8 C611.7,442.9 612.3,443.2 613.0,443.4 C613.7,443.7 614.3,444.2 615.0,444.6 C615.7,444.9 616.3,445.3 617.0,445.5 C617.7,445.8 618.3,446.0 619.0,446.0 C619.7,446.1 620.3,446.0 621.0,445.9 C621.7,445.8 622.3,445.6 623.0,445.5 C623.7,445.3 624.3,445.1 625.0,444.9 C625.7,444.7 626.3,444.6 627.0,444.4 C627.7,444.2 628.3,444.1 629.0,443.9 C629.7,443.7 630.3,443.4 631.0,443.2 C631.7,442.9 632.3,442.6 633.0,442.3 C633.7,442.1 634.3,441.8 635.0,441.6 C635.7,441.5 636.3,441.4 637.0,441.5 C637.7,441.6 638.3,441.9 639.0,442.2 C639.7,442.6 640.3,443.2 641.0,443.7 C641.7,444.2 642.3,444.9 643.0,445.4 C643.7,445.8 644.3,446.3 645.0,446.6 C645.7,446.8 646.3,446.9 647.0,446.8 C647.7,446.8 648.3,446.5 649.0,446.2 C649.7,445.8 650.3,445.3 651.0,445.0 C651.7,444.6 652.3,444.2 653.0,443.9 C653.7,443.6 654.3,443.5 655.0,443.4 C655.7,443.3 656.3,443.4 657.0,443.5 C657.7,443.7 658.3,443.9 659.0,444.0 C659.7,444.2 660.3,444.4 661.0,444.6 C661.7,444.7 662.3,444.8 663.0,444.9 C663.7,444.9 664.3,445.0 665.0,445.0 C665.7,445.1 666.3,445.1 667.0,445.2 C667.7,445.3 668.3,445.4 669.0,445.5 C669.7,445.5 670.3,445.6 671.0,445.6 C671.7,445.6 672.3,445.5 673.0,445.3 C673.7,445.1 674.3,444.8 675.0,444.4 C675.7,444.1 676.3,443.5 677.0,443.1 C677.7,442.6 678.3,442.0 679.0,441.7 C679.7,441.4 680.3,441.0 681.0,441.0 C681.7,440.9 682.3,441.0 683.0,441.3 C683.7,441.5 684.3,442.0 685.0,442.5 C685.7,443.0 686.3,443.7 687.0,444.2 C687.7,444.7 688.3,445.3 689.0,445.7 C689.7,446.0 690.3,446.2 691.0,446.3 C691.7,446.4 692.3,446.3 693.0,446.2 C693.7,446.1 694.3,445.8 695.0,445.6 C695.7,445.4 696.3,445.1 697.0,445.0 C697.7,444.8 698.3,444.7 699.0,444.5 C699.7,444.4 700.3,444.4 701.0,444.3 C701.7,444.3 702.3,444.3 703.0,444.2 C703.7,444.1 704.3,444.0 705.0,444.0 C705.7,443.9 706.3,443.8 707.0,443.8 C707.7,443.8 708.3,443.8 709.0,443.9 C709.7,444.0 710.3,444.2 711.0,444.4 C711.7,444.6 712.3,445.0 713.0,445.3 C713.7,445.6 714.3,446.0 715.0,446.1 C715.7,446.3 716.3,446.4 717.0,446.3 C717.7,446.3 718.3,446.0 719.0,445.7 C719.7,445.3 720.3,444.7 721.0,444.2 C721.7,443.7 722.3,443.0 723.0,442.5 C723.7,442.0 724.3,441.6 725.0,441.3 C725.7,441.1 726.3,441.0 727.0,441.1 C727.7,441.2 728.3,441.5 729.0,441.8 C729.7,442.2 730.3,442.7 731.0,443.1 C731.7,443.5 732.3,443.9 733.0,444.3 C733.7,444.6 734.3,444.9 735.0,445.1 C735.7,445.3 736.3,445.4 737.0,445.5 C737.7,445.6 738.3,445.6 739.0,445.6 C739.7,445.7 740.3,445.7 741.0,445.7 C741.7,445.7 742.3,445.8 743.0,445.8 C743.7,445.7 744.3,445.7 745.0,445.6 C745.7,445.4 746.3,445.2 747.0,445.0 C747.7,444.7 748.3,444.4 749.0,444.1 C749.7,443.8 750.3,443.4 751.0,443.2 C751.7,443.1 752.3,442.9 753.0,442.9 C753.7,443.0 754.3,443.2 755.0,443.5 C755.7,443.7 756.3,444.2 757.0,444.6 C757.7,445.0 758.3,445.5 759.0,445.9 C759.7,446.2 760.3,446.5 761.0,446.6 C761.7,446.6 762.3,446.5 763.0,446.3 C763.7,446.1 764.3,445.6 765.0,445.2 C765.7,444.7 766.3,444.1 767.0,443.7 C767.7,443.2 768.3,442.7 769.0,442.4 C769.7,442.1 770.3,441.9 771.0,441.8 C771.7,441.7 772.3,441.8 773.0,441.9 C773.7,442.0 774.3,442.2 775.0,442.4 C775.7,442.6 776.3,442.8 777.0,443.0 C777.7,443.2 778.3,443.3 779.0,443.5 C779.7,443.7 780.3,443.9 781.0,444.1 C781.7,444.4 782.3,444.6 783.0,444.9 C783.7,445.2 784.3,445.5 785.0,445.8 C785.7,446.1 786.3,446.4 787.0,446.5 C787.7,446.7 788.3,446.7 789.0,446.7 C789.7,446.6 790.3,446.3 791.0,446.0 C791.7,445.7 792.3,445.2 793.0,444.8 C793.7,444.3 794.3,443.8 795.0,443.4 C795.7,443.1 796.3,442.8 797.0,442.7 C797.7,442.6 798.3,442.7 799.0,442.9 C799.7,443.0 800.3,443.5 801.0,443.8 C801.7,444.2 802.3,444.7 803.0,445.1 C803.7,445.5 804.3,445.8 805.0,446.0 C805.7,446.2 806.3,446.2 807.0,446.2 C807.7,446.1 808.3,445.8 809.0,445.6 C809.7,445.3 810.3,445.0 811.0,444.7 C811.7,444.4 812.3,444.0 813.0,443.8 C813.7,443.5 814.3,443.3 815.0,443.2 C815.7,443.0 816.3,442.9 817.0,442.8 C817.7,442.7 818.3,442.6 819.0,442.5 C819.7,442.4 820.3,442.3 821.0,442.2 C821.7,442.2 822.3,442.1 823.0,442.2 C823.7,442.2 824.3,442.3 825.0,442.6 C825.7,442.8 826.3,443.2 827.0,443.6 C827.7,444.1 828.3,444.7 829.0,445.1 C829.7,445.6 830.3,446.2 831.0,446.5 C831.7,446.8 832.3,447.1 833.0,447.2 C833.7,447.2 834.3,447.1 835.0,446.9 C835.7,446.6 836.3,446.1 837.0,445.7 C837.7,445.3 838.3,444.7 839.0,444.2 C839.7,443.8 840.3,443.4 841.0,443.2 C841.7,443.0 842.3,442.9 843.0,443.0 C843.7,443.0 844.3,443.2 845.0,443.5 C845.7,443.7 846.3,444.0 847.0,444.3 C847.7,444.6 848.3,444.8 849.0,445.0 C849.7,445.2 850.3,445.3 851.0,445.3 C851.7,445.3 852.3,445.3 853.0,445.2 C853.7,445.2 854.3,445.1 855.0,445.0 C855.7,445.0 856.3,444.9 857.0,444.8 C857.7,444.8 858.3,444.7 859.0,444.6 C859.7,444.5 860.3,444.3 861.0,444.1 C861.7,443.9 862.3,443.6 863.0,443.3 C863.7,443.0 864.3,442.6 865.0,442.3 C865.7,442.0 866.3,441.6 867.0,441.5 C867.7,441.3 868.3,441.3 869.0,441.4 C869.7,441.6 870.3,441.9 871.0,442.3 C871.7,442.8 872.3,443.4 873.0,444.0 C873.7,444.5 874.3,445.2 875.0,445.7 C875.7,446.2 876.3,446.6 877.0,446.9 C877.7,447.1 878.3,447.1 879.0,447.0 C879.7,446.9 880.3,446.6 881.0,446.3 C881.7,446.0 882.3,445.6 883.0,445.2 C883.7,444.9 884.3,444.5 885.0,444.3 C885.7,444.1 886.3,443.9 887.0,443.8 C887.7,443.7 888.3,443.8 889.0,443.8 C889.7,443.8 890.3,443.9 891.0,443.9 C891.7,444.0 892.3,444.0 893.0,444.1 C893.7,444.1 894.3,444.1 895.0,444.1 C895.7,444.2 896.3,444.2 897.0,444.3 C897.7,444.4 898.3,444.6 899.0,444.7 C899.7,444.9 900.3,445.1 901.0,445.3 C901.7,445.4 902.3,445.6 903.0,445.6 C903.7,445.7 904.3,445.6 905.0,445.4 C905.7,445.2 906.3,444.9 907.0,444.5 C907.7,444.0 908.3,443.5 909.0,443.0 C909.7,442.5 910.3,442.0 911.0,441.6 C911.7,441.3 912.3,441.1 913.0,441.0 C913.7,441.0 914.3,441.2 915.0,441.5 C915.7,441.8 916.3,442.3 917.0,442.8 C917.7,443.3 918.3,444.0 919.0,444.5 C919.7,444.9 920.3,445.4 921.0,445.8 C921.7,446.1 922.3,446.3 923.0,446.4 C923.7,446.4 924.3,446.4 925.0,446.3 C925.7,446.2 926.3,446.0 927.0,445.9 C927.7,445.8 928.3,445.6 929.0,445.5 C929.7,445.3 930.3,445.2 931.0,445.1 C931.7,445.0 932.3,444.9 933.0,444.8 C933.7,444.6 934.3,444.4 935.0,444.3 C935.7,444.1 936.5,443.6 937.0,443.6 C937.5,443.6 937.8,444.2 938.0,444.3" stroke="#141414" stroke-width="2.5" fill="none" stroke-linejoin="round"/>
<path d="M325.8,448.2 L322.0,436.2 M329.3,448.1 L333.1,440.8 M338.3,446.0 L334.5,437.5 M342.6,443.9 L343.7,453.5 M348.4,450.2 L347.2,442.1 M352.2,443.2 L349.6,449.9" stroke="#141414" stroke-width="1.1" fill="none" stroke-linecap="round"/>
<path d="M322.0,444.6 C322.3,444.7 323.3,445.0 324.0,445.3 C324.7,445.5 325.3,445.9 326.0,446.1 C326.7,446.2 327.3,446.1 328.0,446.0 C328.7,445.8 329.3,445.4 330.0,445.1 C330.7,444.8 331.3,444.3 332.0,444.0 C332.7,443.6 333.3,443.3 334.0,443.1 C334.7,443.0 335.3,442.9 336.0,442.9 C336.7,442.9 337.3,443.1 338.0,443.2 C338.7,443.4 339.3,443.6 340.0,443.8 C340.7,444.0 341.3,444.2 342.0,444.4 C342.7,444.6 343.3,444.7 344.0,444.9 C344.7,445.1 345.3,445.2 346.0,445.4 C346.7,445.6 347.3,445.9 348.0,446.1 C348.7,446.4 349.3,446.7 350.0,446.9 C350.7,447.1 351.3,447.3 352.0,447.3 C352.7,447.4 353.3,447.3 354.0,447.1 C354.7,446.9 355.4,446.4 356.0,446.0 C356.6,445.6 357.2,444.8 357.5,444.6" stroke="#141414" stroke-width="1.5" fill="none" stroke-linejoin="round"/>
</svg>
</body></html>
